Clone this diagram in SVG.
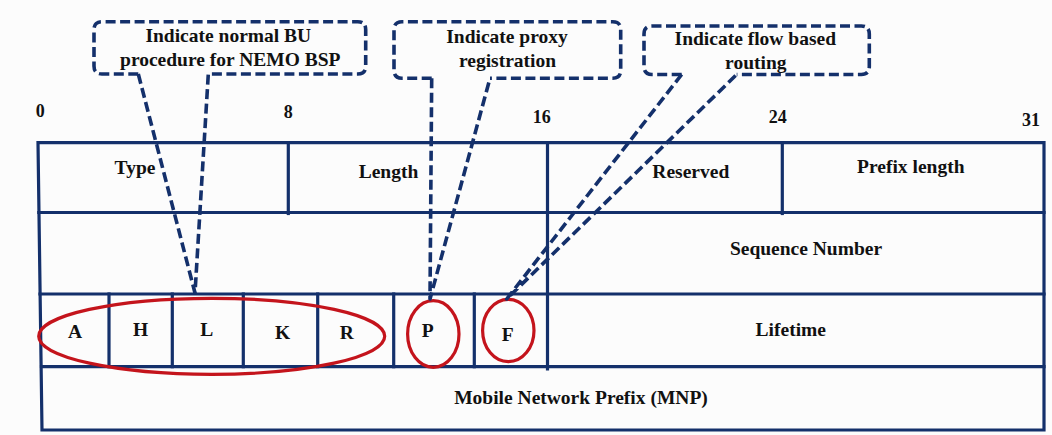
<svg xmlns="http://www.w3.org/2000/svg" width="1052" height="435" viewBox="0 0 1052 435">
<style>
.bg{fill:#fcfcfc}
.grid{stroke:#14306b;stroke-width:3.2;fill:none;stroke-linecap:square}
.dash{stroke:#14306b;stroke-width:3.6;fill:none;stroke-dasharray:10 4.5;stroke-linejoin:round}
.ring{stroke:#c4141c;stroke-width:3.2;fill:none}
text{font-family:'Liberation Serif','DejaVu Serif',serif;font-weight:700;fill:#111;text-anchor:middle}
.f{font-size:19.5px}
.n{font-size:18px}
</style>
<rect class="bg" x="0" y="0" width="1052" height="435"/>

<g id="bit-labels">
<text class="n" x="40.2" y="116.7">0</text>
<text class="n" x="288.3" y="118.3">8</text>
<text class="n" x="541.7" y="122.7">16</text>
<text class="n" x="777.7" y="122.7">24</text>
<text class="n" x="1031" y="126">31</text>
</g>

<g id="table">
<path class="grid" d="M38,142.7 L1044,142.7 L1044,430 L42,430 Z"/>
<line class="grid" x1="38.8" y1="212.5" x2="1044" y2="212.5"/>
<line class="grid" x1="40" y1="294" x2="1044" y2="294"/>
<line class="grid" x1="41.5" y1="366.7" x2="1044" y2="366.7"/>
<line class="grid" x1="288.3" y1="142.7" x2="288.3" y2="213.5"/>
<line class="grid" x1="547.5" y1="142.7" x2="547.5" y2="369"/>
<line class="grid" x1="782.3" y1="142.7" x2="782.3" y2="213.5"/>
<line class="grid" x1="109" y1="294" x2="109" y2="366.7"/>
<line class="grid" x1="172.3" y1="294" x2="172.3" y2="366.7"/>
<line class="grid" x1="243.3" y1="294" x2="243.3" y2="366.7"/>
<line class="grid" x1="317.7" y1="294" x2="317.7" y2="366.7"/>
<line class="grid" x1="393.7" y1="294" x2="393.7" y2="366.7"/>
<line class="grid" x1="474.3" y1="294" x2="474.3" y2="366.7"/>
</g>

<g id="field-type"><text class="f" x="135" y="174">Type</text></g>
<g id="field-length"><text class="f" x="388.5" y="178">Length</text></g>
<g id="field-reserved"><text class="f" x="690.8" y="178.3">Reserved</text></g>
<g id="field-prefix-length"><text class="f" x="910.8" y="172.7">Prefix length</text></g>
<g id="field-sequence"><text class="f" x="806" y="255">Sequence Number</text></g>
<g id="field-A"><text class="f" x="75" y="338">A</text></g>
<g id="field-H"><text class="f" x="140.7" y="336">H</text></g>
<g id="field-L"><text class="f" x="206.7" y="336">L</text></g>
<g id="field-K"><text class="f" x="282.7" y="339">K</text></g>
<g id="field-R"><text class="f" x="346.7" y="339">R</text></g>
<g id="field-P"><text class="f" x="427.7" y="337.3">P</text></g>
<g id="field-F"><text class="f" x="507.7" y="341">F</text></g>
<g id="field-lifetime"><text class="f" x="790.8" y="336">Lifetime</text></g>
<g id="field-mnp"><text class="f" x="581" y="404">Mobile Network Prefix (MNP)</text></g>

<g id="highlight-AHLKR"><ellipse class="ring" cx="211.7" cy="336.3" rx="173" ry="38"/></g>
<g id="highlight-P"><ellipse class="ring" cx="433.3" cy="334" rx="25.7" ry="33.3"/></g>
<g id="highlight-F"><ellipse class="ring" cx="508.3" cy="330.5" rx="25.7" ry="31.2"/></g>

<g id="callout-nemo">
<path class="dash" d="M138.3,74 L102,74 Q94,74 94,66 L94,29.7 Q94,21.7 102,21.7 L357.7,21.7 Q365.7,21.7 365.7,29.7 L365.7,66 Q365.7,74 357.7,74 L208.3,74"/>
<text class="f" x="228.3" y="41.7">Indicate normal BU</text>
<text class="f" x="230.3" y="66">procedure for NEMO BSP</text>
</g>

<g id="callout-proxy">
<path class="dash" d="M431.7,78.3 L402,78.3 Q394,78.3 394,70.3 L394,29.7 Q394,21.7 402,21.7 L612.7,21.7 Q620.7,21.7 620.7,29.7 L620.7,70.3 Q620.7,78.3 612.7,78.3 L490,78.3"/>
<text class="f" x="507" y="43.3">Indicate proxy</text>
<text class="f" x="507.5" y="67.3">registration</text>
</g>

<g id="callout-flow">
<path class="dash" d="M681.7,74.5 L652,74.5 Q644,74.5 644,66.5 L644,34 Q644,26 652,26 L861.3,26 Q869.3,26 869.3,34 L869.3,66.5 Q869.3,74.5 861.3,74.5 L736.7,74.5"/>
<text class="f" x="755.3" y="45">Indicate flow based</text>
<text class="f" x="755.8" y="69.3">routing</text>
</g>

<g id="connectors">
<path class="dash" d="M138.3,74 L195,293 L208.3,74"/>
<path class="dash" d="M431.7,78.3 L430,299 L490,78.3"/>
<path class="dash" d="M681.7,74.5 L506.7,299 L736.7,74.5"/>
</g>
</svg>
